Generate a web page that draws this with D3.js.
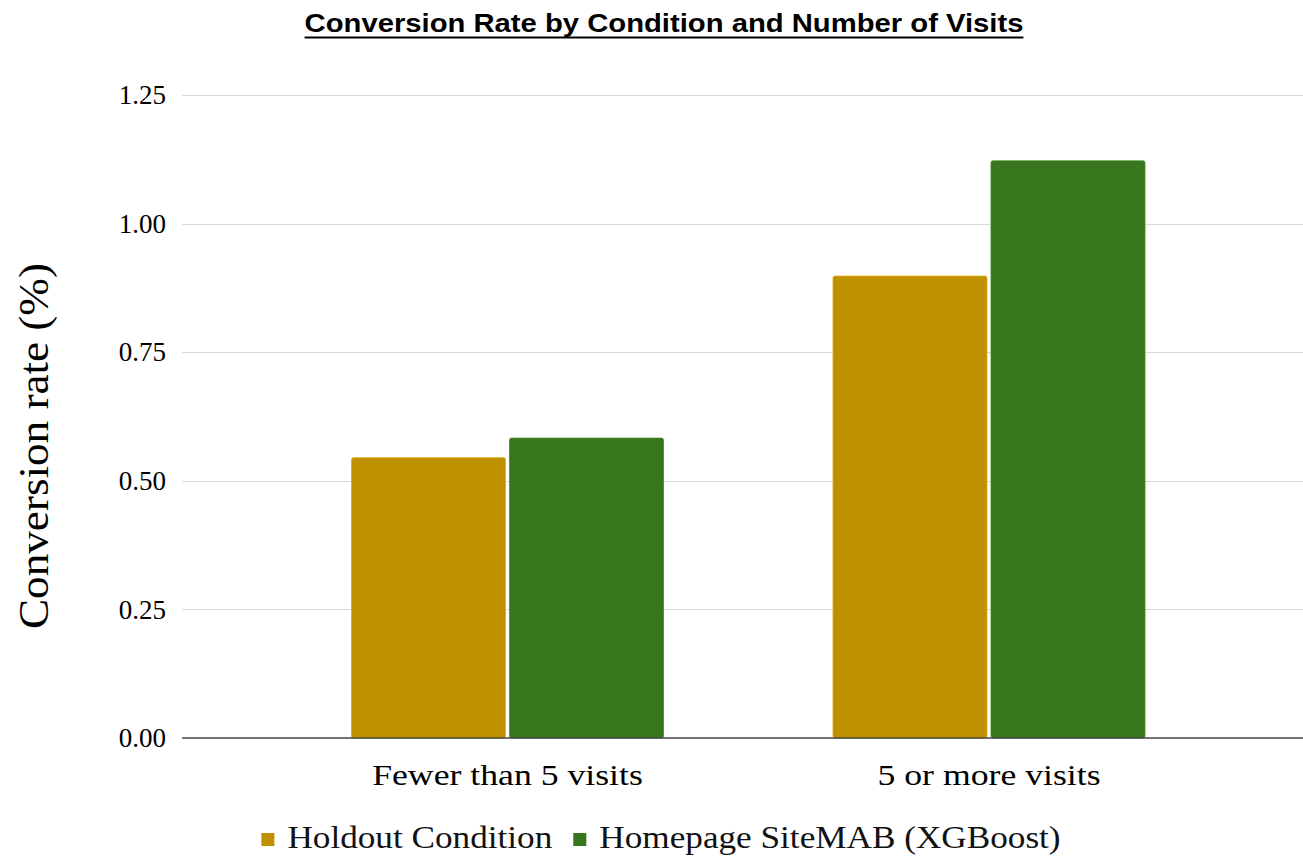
<!DOCTYPE html>
<html>
<head>
<meta charset="utf-8">
<script src="https://cdn.jsdelivr.net/npm/d3@7/dist/d3.min.js"></script>
<style>
  html, body { margin: 0; padding: 0; background: #fff; }
  svg { display: block; }
</style>
</head>
<body>
<svg id="chart" width="1303" height="857"></svg>
<script>
// Chart data
const categories = ["Fewer than 5 visits", "5 or more visits"];
const seriesNames = ["Holdout Condition", "Homepage SiteMAB (XGBoost)"];
const holdoutValues = [0.545, 0.898];
const siteMabValues = [0.583, 1.122];
const yTicks = [0, 0.25, 0.5, 0.75, 1.0, 1.25];
const seriesColors = ["#bf9000", "#38761d"];

const seriesValues = [holdoutValues, siteMabValues];
const rows = categories.map((c, i) => ({
  category: c,
  values: seriesNames.map((s, j) => ({ series: s, value: seriesValues[j][i], idx: j }))
}));

const svg = d3.select("#chart");
const serif = "'Liberation Serif', 'Times New Roman', serif";

// Plot geometry
const gridLeft = 182, gridRight = 1303;
const y = d3.scaleLinear().domain([0, 1.25]).range([738, 95]);
const x0 = d3.scaleBand().domain(categories).range([266.75, 1229.75]);
const groupW = x0.bandwidth() * 0.648;
const x1 = d3.scaleBand().domain(seriesNames).range([0, groupW]).paddingInner(0.0253);
const color = d3.scaleOrdinal().domain(seriesNames).range(seriesColors);

// Title (slightly widened face)
const titleScale = 1.17;
const title = svg.append("text")
  .attr("transform", `translate(664,32) scale(${titleScale},1)`)
  .attr("text-anchor", "middle")
  .attr("font-family", "'Liberation Sans', Arial, sans-serif")
  .attr("font-weight", "bold")
  .attr("font-size", 25)
  .attr("fill", "#000")
  .text("Conversion Rate by Condition and Number of Visits");
const titleW = title.node().getComputedTextLength() * titleScale;
svg.append("line")
  .attr("x1", 664 - titleW / 2).attr("x2", 664 + titleW / 2)
  .attr("y1", 37.5).attr("y2", 37.5)
  .attr("stroke", "#000").attr("stroke-width", 2);

// Gridlines and y tick labels
const yAxis = d3.axisLeft(y).tickValues(yTicks).tickFormat(d3.format(".2f")).tickSize(0).tickPadding(16);
const yg = svg.append("g").attr("transform", `translate(${gridLeft},0)`).call(yAxis);
yg.select(".domain").remove();
yg.selectAll("text")
  .attr("font-family", serif)
  .attr("font-size", 27)
  .attr("fill", "#000");

svg.append("g").selectAll("line")
  .data(yTicks.filter(d => d > 0))
  .join("line")
  .attr("x1", gridLeft).attr("x2", gridRight)
  .attr("y1", d => Math.round(y(d)) + 0.5).attr("y2", d => Math.round(y(d)) + 0.5)
  .attr("stroke", "#d9d9d9").attr("stroke-width", 1.2);

// Bars
const groups = svg.append("g").selectAll("g")
  .data(rows)
  .join("g")
  .attr("transform", d => `translate(${x0(d.category) + (x0.bandwidth() - groupW) / 2},0)`);

groups.selectAll("rect")
  .data(d => d.values)
  .join("rect")
  .attr("x", d => x1(d.series))
  .attr("y", d => y(d.value))
  .attr("width", x1.bandwidth())
  .attr("height", d => y(0) - y(d.value))
  .attr("rx", 2).attr("ry", 2)
  .attr("fill", d => color(d.series))
  .attr("stroke", d => d3.color(color(d.series)).brighter(0.5))
  .attr("stroke-width", 0.8);

// Baseline
svg.append("line")
  .attr("x1", gridLeft).attr("x2", gridRight)
  .attr("y1", y(0)).attr("y2", y(0))
  .attr("stroke", "#444").attr("stroke-width", 1.5);

// X axis labels
const xAxis = d3.axisBottom(x0).tickSize(0).tickPadding(0);
const xg = svg.append("g").attr("transform", `translate(0,${y(0)})`).call(xAxis);
xg.select(".domain").remove();
xg.selectAll("text")
  .attr("font-family", serif)
  .attr("font-size", 30)
  .attr("fill", "#000")
  .attr("dy", null)
  .attr("y", 0)
  .attr("transform", "translate(0,47) scale(1.19,1)");

// Y axis title
svg.append("text")
  .attr("transform", "translate(48,446) rotate(-90) scale(1.05,1)")
  .attr("text-anchor", "middle")
  .attr("font-family", serif)
  .attr("font-size", 43)
  .attr("fill", "#000")
  .text("Conversion rate (%)");

// Legend
const legendScale = 1.1;
const legend = svg.append("g");
const items = legend.selectAll("g")
  .data(seriesNames)
  .join("g");
items.append("rect")
  .attr("width", 13).attr("height", 13)
  .attr("y", 833)
  .attr("fill", d => color(d));
items.append("text")
  .attr("transform", `translate(26,848) scale(${legendScale},1)`)
  .attr("font-family", serif)
  .attr("font-size", 32)
  .attr("fill", "#111")
  .text(d => d);
const widths = [];
items.each(function () {
  widths.push(d3.select(this).select("text").node().getComputedTextLength() * legendScale + 26);
});
const gap = 21;
const total = d3.sum(widths) + gap * (widths.length - 1);
let cursor = 661 - total / 2;
items.attr("transform", (d, i) => {
  const tx = cursor;
  cursor += widths[i] + gap;
  return `translate(${tx},0)`;
});
</script>
</body>
</html>
